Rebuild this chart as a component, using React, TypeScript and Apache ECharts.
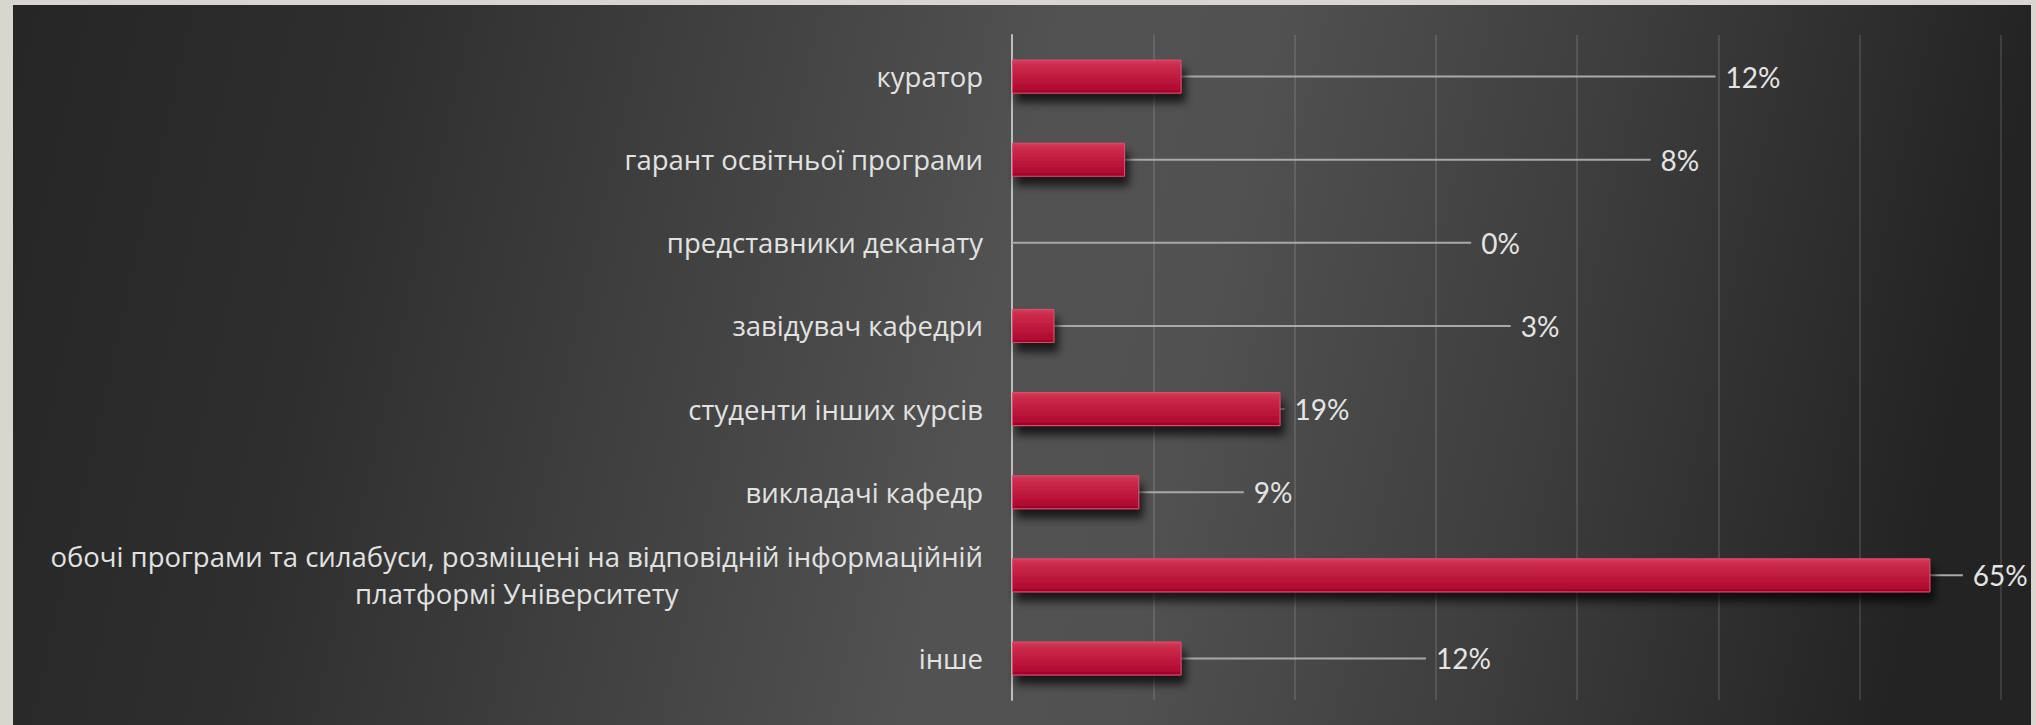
import React, { useEffect, useRef } from 'react';
import * as echarts from 'echarts';

const categories: string[] = [
  'куратор',
  'гарант освітньої програми',
  'представники деканату',
  'завідувач кафедри',
  'студенти інших курсів',
  'викладачі кафедр',
  'обочі програми та силабуси, розміщені на відповідній інформаційній\nплатформі Університету',
  'інше',
];
const values: number[] = [12, 8, 0, 3, 19, 9, 65, 12];
// where each data label was dragged to, in axis units (null = default position)
const labelAt: (number | null)[] = [49.8, 45.2, 32.5, 35.3, null, 16.4, 67.3, 29.3];
const axisMin = 0;
const axisMax = 70;
const axisInterval = 10;

export default function App() {
  const ref = useRef<HTMLDivElement>(null);
  useEffect(() => {
    if (!ref.current) return;
    const chart = echarts.init(ref.current, undefined, { renderer: 'svg' });
    const option: any = {
      animation: false,
      backgroundColor: '#d9d6d0',
      graphic: [
        {
          type: 'rect',
          z: -10,
          silent: true,
          shape: { x: 13, y: 5, width: 2018, height: 720 },
          style: {
            fill: new echarts.graphic.LinearGradient(0, 0, 1, 0.08, [
              { offset: 0, color: '#262626' },
              { offset: 0.18, color: '#2e2e2e' },
              { offset: 0.38, color: '#434343' },
              { offset: 0.52, color: '#525252' },
              { offset: 0.62, color: '#515151' },
              { offset: 0.8, color: '#3d3d3d' },
              { offset: 1, color: '#232323' },
            ]),
          },
        },
      ],
      grid: { left: 1012, right: 35, top: 35, bottom: 25, containLabel: false },
      xAxis: {
        type: 'value',
        min: axisMin,
        max: axisMax,
        interval: axisInterval,
        axisLabel: { show: false },
        axisLine: { show: false },
        axisTick: { show: false },
        splitLine: { show: true, lineStyle: { color: 'rgba(255,255,255,0.16)', width: 1.5 } },
      },
      yAxis: {
        type: 'category',
        inverse: true,
        data: categories,
        axisTick: { show: false },
        axisLine: { show: true, lineStyle: { color: '#bdbdbd', width: 2 } },
        axisLabel: {
          margin: 29,
          color: '#e2e2e2',
          fontFamily: 'Open Sans',
          fontSize: 27.5,
          formatter: (v: string) =>
            v
              .split('\n')
              .map((l) => '{c|' + l + '}')
              .join('\n'),
          rich: {
            c: {
              align: 'center',
              color: '#e2e2e2',
              fontFamily: 'Open Sans',
              fontSize: 27.5,
              lineHeight: 37,
            },
          },
        },
      },
      series: [
        {
          type: 'bar',
          data: values,
          barWidth: 34,
          itemStyle: {
            color: new echarts.graphic.LinearGradient(0, 0, 0, 1, [
              { offset: 0, color: '#da3f5d' },
              { offset: 0.12, color: '#cd2e4d' },
              { offset: 0.5, color: '#c01b3f' },
              { offset: 0.88, color: '#b00a32' },
              { offset: 1, color: '#9a0026' },
            ]),
            borderColor: '#e24c68',
            borderWidth: 1,
            shadowColor: 'rgba(0,0,0,0.7)',
            shadowBlur: 8,
            shadowOffsetX: 4,
            shadowOffsetY: 9,
          },
          label: {
            show: true,
            position: 'right',
            distance: 4,
            formatter: (p: any) => '{g| }{v|' + p.value + '%}',
            rich: {
              g: { width: 10, fontSize: 10 },
              v: { color: '#e4e4e4', fontFamily: 'Lato', fontSize: 28 },
            },
          },
          labelLine: { show: true, lineStyle: { color: '#a9a9a9', width: 2 } },
        },
      ],
    };
    chart.setOption(option);
    const px = labelAt.map((v) =>
      v == null ? null : (chart.convertToPixel({ xAxisIndex: 0 }, v) as number)
    );
    chart.setOption({
      series: [
        {
          labelLayout: (p: any) => {
            const x = px[p.dataIndex];
            if (x == null) return { verticalAlign: 'middle' };
            return { x, align: 'left', verticalAlign: 'middle' };
          },
        },
      ],
    });
    return () => chart.dispose();
  }, []);
  return (
    <div
      ref={ref}
      style={{ position: 'absolute', left: 0, top: 0, width: 2036, height: 725 }}
    />
  );
}
